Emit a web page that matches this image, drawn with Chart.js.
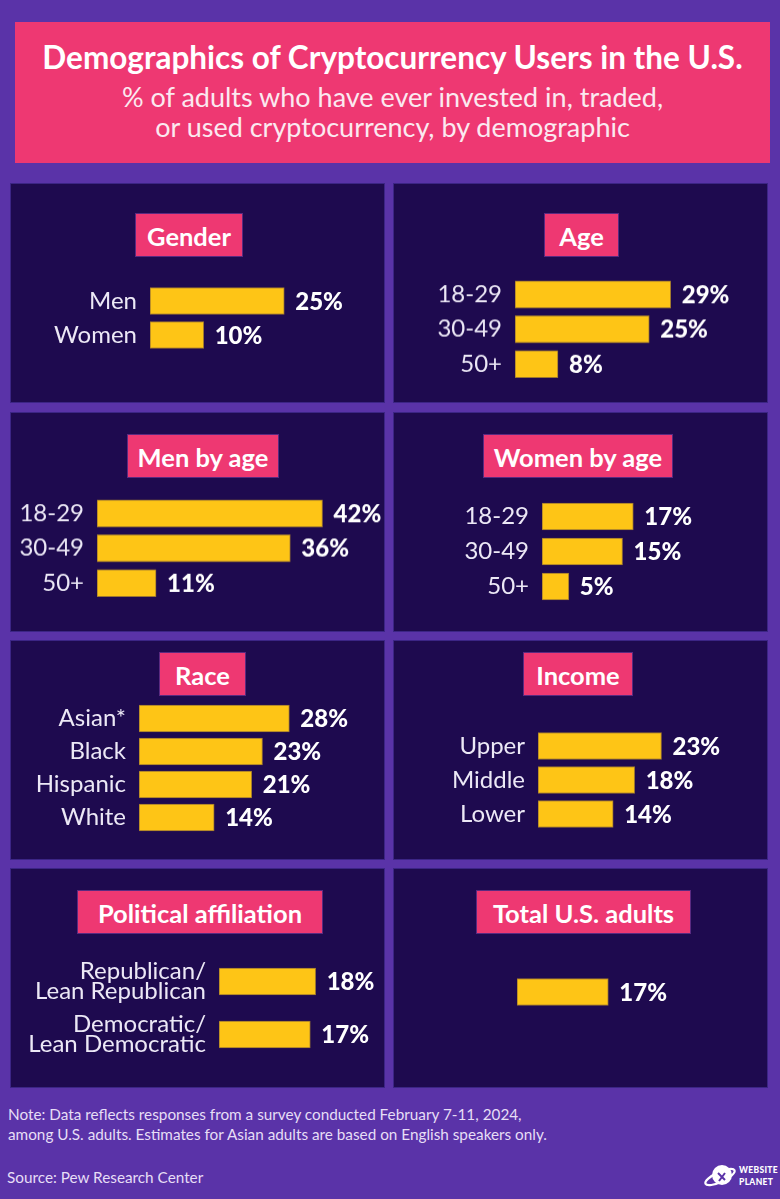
<!DOCTYPE html>
<html>
<head>
<meta charset="utf-8">
<script src="https://cdn.jsdelivr.net/npm/chart.js"></script>
<style>
  html, body { margin: 0; padding: 0; }
  body {
    width: 780px; height: 1199px; position: relative; overflow: hidden;
    background: #5a33a8; font-family: Lato, "Open Sans", sans-serif;
  }
  .header {
    position: absolute; left: 15px; top: 22px; width: 755px; height: 141px;
    background: #ee3872; color: #fff; text-align: center;
  }
  .header h1 { margin: 0; position: absolute; left: 0; right: 0; top: 16px; font-size: 31.5px; font-weight: 700; line-height: 38px; }
  .header p { margin: 0; position: absolute; left: 0; right: 0; top: 60px; font-size: 27px; line-height: 30px; color: #fbe9f0; }
  .panel {
    position: absolute; width: 373px; height: 218px;
    background: #1e0a4f; border: 1px solid #3c2585;
  }
  .tag {
    position: absolute; height: 44px; line-height: 44px; background: #ee3872;
    color: #fff; font-weight: 700; font-size: 25.5px; text-align: center;
    border: 1px solid #5a2a80; box-sizing: border-box; white-space: nowrap;
  }
  .chartBox { position: absolute; }
  .note { position: absolute; left: 8px; top: 1105px; font-size: 15.3px; line-height: 19.5px; color: #e6def6; }
  .source { position: absolute; left: 7px; top: 1168px; font-size: 15.3px; color: #e6def6; }
  .logo { position: absolute; left: 703px; top: 1161px; width: 70px; height: 30px; }
  .logo span { position: absolute; left: 36px; font-size: 8.5px; font-weight: 900; color: #fff; letter-spacing: 0.3px; }
</style>
</head>
<body>
<div class="header">
  <h1>Demographics of Cryptocurrency Users in the U.S.</h1>
  <p>% of adults who have ever invested in, traded,<br>or used cryptocurrency, by demographic</p>
</div>

<div class="note">Note: Data reflects responses from a survey conducted February 7-11, 2024,<br>among U.S. adults. Estimates for Asian adults are based on English speakers only.</div>
<div class="source">Source: Pew Research Center</div>
<div class="logo">
  <svg width="36" height="30" viewBox="0 0 36 30">
    <circle cx="19" cy="14" r="10" fill="#fff"/>
    <ellipse cx="17" cy="16" rx="16" ry="5" fill="none" stroke="#fff" stroke-width="2.2" transform="rotate(-25 17 16)"/>
    <path d="M15 12 L22 19 M22 12 L16 20" stroke="#5a33a8" stroke-width="2"/>
  </svg>
  <span style="top:4px">WEBSITE</span>
  <span style="top:16px">PLANET</span>
</div>

<script>
// ---- data ----
const genderLabels = ["Men", "Women"];
const genderValues = [25, 10];

const ageLabels = ["18-29", "30-49", "50+"];
const ageValues = [29, 25, 8];

const menAgeLabels = ["18-29", "30-49", "50+"];
const menAgeValues = [42, 36, 11];

const womenAgeLabels = ["18-29", "30-49", "50+"];
const womenAgeValues = [17, 15, 5];

const raceLabels = ["Asian*", "Black", "Hispanic", "White"];
const raceValues = [28, 23, 21, 14];

const incomeLabels = ["Upper", "Middle", "Lower"];
const incomeValues = [23, 18, 14];

const politicsLabels = [["Republican/", "Lean Republican"], ["Democratic/", "Lean Democratic"]];
const politicsValues = [18, 17];

const totalLabels = [""];
const totalValues = [17];

// ---- layout ----
const PX_PER_PCT = 5.37;

const panels = [
  { title: "Gender", x: 10, y: 183, tag: [135, 213, 108], barStart: 150, top: 283.5, pitch: 34, labels: genderLabels, values: genderValues },
  { title: "Age", x: 393, y: 183, tag: [544, 213, 75], barStart: 515, top: 277, pitch: 34.5, labels: ageLabels, values: ageValues },
  { title: "Men by age", x: 10, y: 412, tag: [127, 434, 152], barStart: 97, top: 496, pitch: 34.5, labels: menAgeLabels, values: menAgeValues },
  { title: "Women by age", x: 393, y: 412, tag: [483, 434, 190], barStart: 542, top: 499, pitch: 35, labels: womenAgeLabels, values: womenAgeValues },
  { title: "Race", x: 10, y: 640, tag: [159, 652, 87], barStart: 139, top: 702, pitch: 33, labels: raceLabels, values: raceValues },
  { title: "Income", x: 393, y: 640, tag: [523, 652, 110], barStart: 538, top: 728.5, pitch: 34, labels: incomeLabels, values: incomeValues },
  { title: "Political affiliation", x: 10, y: 868, tag: [77, 890, 246], barStart: 219, top: 955, pitch: 53, labels: politicsLabels, values: politicsValues },
  { title: "Total U.S. adults", x: 393, y: 868, tag: [476, 890, 215], barStart: 517, top: 974.5, pitch: 34, labels: totalLabels, values: totalValues }
];

const valueLabels = {
  id: "valueLabels",
  afterDatasetsDraw(chart) {
    const ctx = chart.ctx;
    const ds = chart.data.datasets[0];
    ctx.save();
    ctx.font = "900 24px Lato";
    ctx.fillStyle = "#ffffff";
    ctx.textBaseline = "middle";
    ctx.textAlign = "left";
    chart.getDatasetMeta(0).data.forEach((bar, i) => {
      ctx.fillText(ds.data[i] + "%", bar.x + 11, bar.y + 1);
    });
    ctx.restore();
  }
};

function buildPanel(p) {
  const panel = document.createElement("div");
  panel.className = "panel";
  panel.style.left = p.x + "px";
  panel.style.top = p.y + "px";
  document.body.appendChild(panel);

  const tag = document.createElement("div");
  tag.className = "tag";
  tag.textContent = p.title;
  tag.style.left = p.tag[0] + "px";
  tag.style.top = p.tag[1] + "px";
  tag.style.width = p.tag[2] + "px";
  document.body.appendChild(tag);

  const panelW = 375;
  const yW = p.barStart - p.x;
  const box = document.createElement("div");
  box.className = "chartBox";
  box.style.left = p.x + "px";
  box.style.top = p.top + "px";
  box.style.width = panelW + "px";
  box.style.height = (p.pitch * p.values.length) + "px";
  const canvas = document.createElement("canvas");
  box.appendChild(canvas);
  document.body.appendChild(box);

  new Chart(canvas, {
    type: "bar",
    data: {
      labels: p.labels,
      datasets: [{
        data: p.values,
        backgroundColor: "#fec516",
        borderColor: "#9c7630",
        borderWidth: 1,
        borderSkipped: false,
        barThickness: 27
      }]
    },
    options: {
      indexAxis: "y",
      responsive: true,
      maintainAspectRatio: false,
      animation: false,
      layout: { padding: 0 },
      plugins: { legend: { display: false }, tooltip: { enabled: false } },
      scales: {
        x: {
          display: false,
          min: 0,
          max: (panelW - yW) / PX_PER_PCT
        },
        y: {
          afterFit: (scale) => {
            scale.width = yW;
            scale.paddingTop = 0;
            scale.paddingBottom = 0;
          },
          grid: { display: false, drawTicks: false },
          border: { display: false },
          ticks: {
            color: "#ece8f6",
            padding: 13,
            font: { family: "Lato", size: 24, lineHeight: 0.85 }
          }
        }
      }
    },
    plugins: [valueLabels]
  });
}

document.fonts.ready.then(() => panels.forEach(buildPanel));
</script>
</body>
</html>
